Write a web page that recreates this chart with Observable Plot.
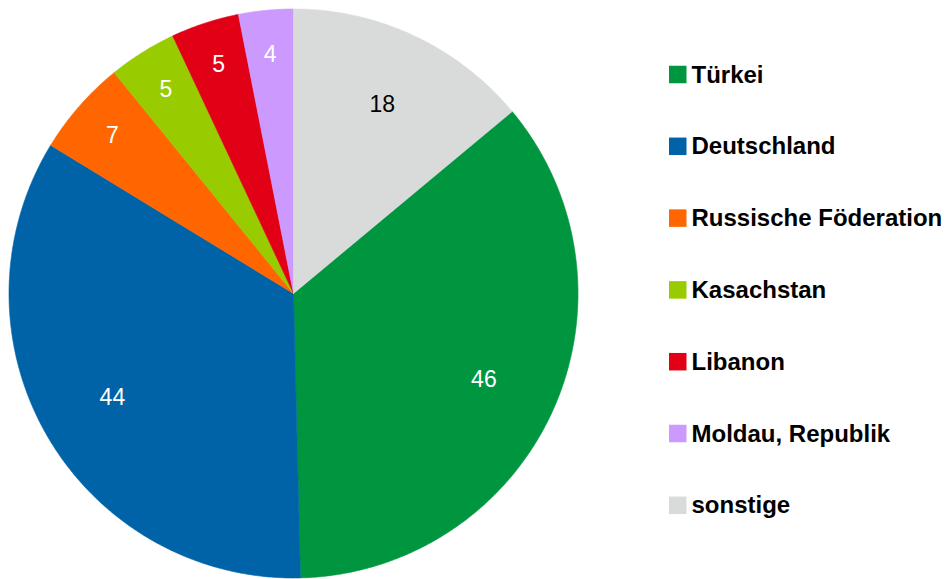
<!DOCTYPE html>
<html>
<head>
<meta charset="utf-8">
<script src="https://cdn.jsdelivr.net/npm/d3@7"></script>
<script src="https://cdn.jsdelivr.net/npm/@observablehq/plot@0.6"></script>
<style>
  html, body { margin: 0; padding: 0; background: #fff; }
  #chart svg { display: block; }
</style>
</head>
<body>
<div id="chart"></div>
<script>
const categories = ["Türkei", "Deutschland", "Russische Föderation", "Kasachstan", "Libanon", "Moldau, Republik", "sonstige"];
const values = [46, 44, 7, 5, 5, 4, 18];
const colors = ["#00963f", "#0063a8", "#ff6600", "#99cc00", "#e10015", "#cc99ff", "#d9dada"];
const labelColors = ["#fff", "#fff", "#fff", "#fff", "#fff", "#fff", "#000"];

const W = 947, H = 579;
const CX = 293, CY = 293, R = 284.5;

const total = d3.sum(values);
const offset = 2 * Math.PI * values[values.length - 1] / total;
const arcs = d3.pie().sort(null).value(d => d.value)
  .startAngle(offset).endAngle(offset + 2 * Math.PI)(
    categories.map((name, i) => ({name, value: values[i], i}))
  );

const polys = [];
arcs.forEach(a => {
  const name = a.data.name;
  polys.push({name, x: 0, y: 0});
  const n = Math.max(2, Math.ceil((a.endAngle - a.startAngle) / (Math.PI / 360)));
  for (let k = 0; k <= n; k++) {
    const t = a.startAngle + (a.endAngle - a.startAngle) * k / n;
    polys.push({name, x: R * Math.sin(t), y: R * Math.cos(t)});
  }
  polys.push({name, x: 0, y: 0});
});

const labels = arcs.map(a => {
  const mid = (a.startAngle + a.endAngle) / 2;
  const r = a.data.value < 10 ? 0.845 * R : 0.735 * R;
  return {name: a.data.name, text: String(a.data.value), x: r * Math.sin(mid), y: r * Math.cos(mid), fill: labelColors[a.data.i]};
});

const legX = 669 - CX, legSize = 17.5, legTop = 74.5, legStep = 71.8;
const legend = categories.map((name, i) => {
  const yc = CY - (legTop + i * legStep);
  return {name, x1: legX, x2: legX + legSize, y1: yc - legSize / 2, y2: yc + legSize / 2, tx: legX + 22, ty: yc};
});

const plot = Plot.plot({
  width: W, height: H,
  margin: 0,
  x: {domain: [-CX, W - CX], axis: null},
  y: {domain: [-(H - CY), CY], axis: null},
  color: {domain: categories, range: colors},
  style: {fontFamily: "'Liberation Sans', Arial, sans-serif", background: "#fff"},
  marks: [
    Plot.line(polys, {x: "x", y: "y", z: "name", fill: "name", stroke: "name", strokeWidth: 0.6, curve: "linear"}),
    Plot.text(labels, {x: "x", y: "y", text: "text", fill: d => d.fill, fontSize: 23}),
    Plot.rect(legend, {x1: "x1", x2: "x2", y1: "y1", y2: "y2", fill: "name"}),
    Plot.text(legend, {x: "tx", y: "ty", text: "name", textAnchor: "start", fontSize: 24, fontWeight: "bold", fill: "#000"})
  ]
});
document.getElementById("chart").appendChild(plot);
</script>
</body>
</html>
